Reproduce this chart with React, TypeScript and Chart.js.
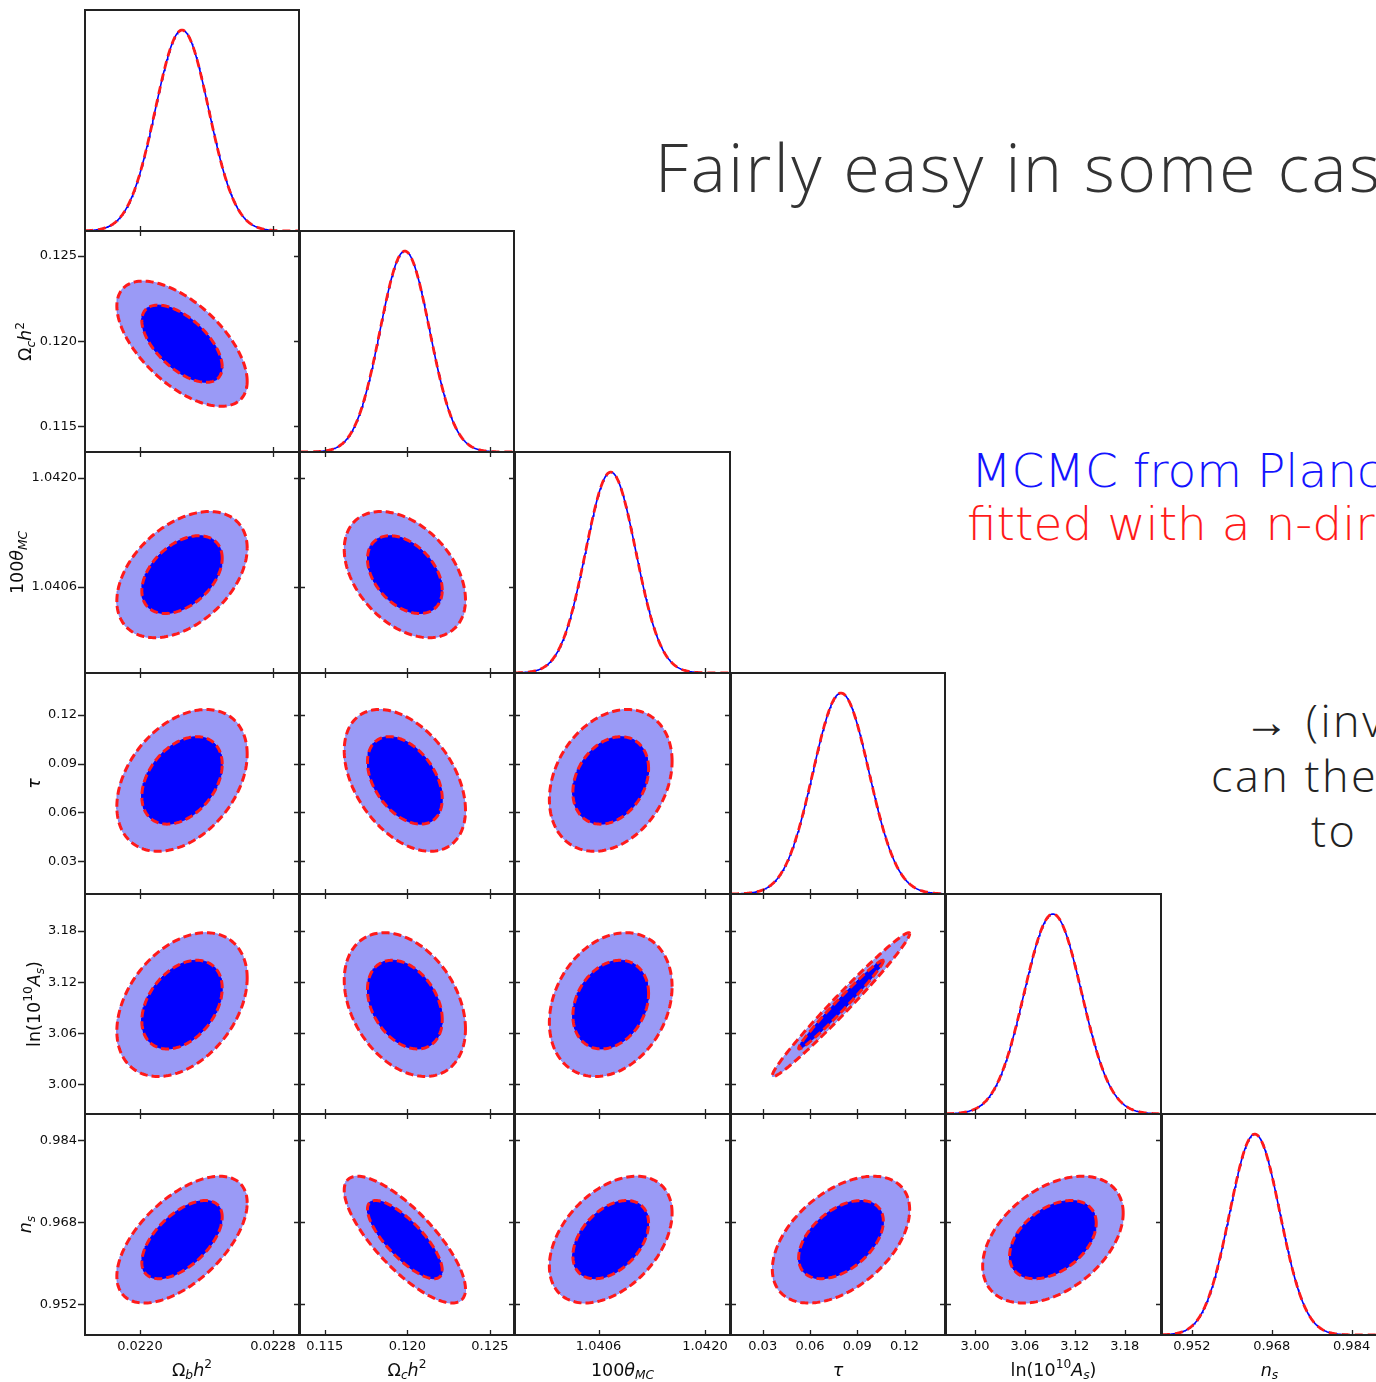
import React, { useEffect, useRef } from 'react';
import { Chart, registerables } from 'chart.js';

Chart.register(...registerables);

// Planck parameters, in plotting order
const PARAM_KEYS = ['omegabh2', 'omegach2', 'theta', 'tau', 'logA', 'ns'];
const POSTERIOR_MEANS = [0.022253, 0.11985, 1.04076, 0.0797, 3.0937, 0.9646];
const POSTERIOR_SIGMAS = [0.00016, 0.0015, 0.00033, 0.0178, 0.0345, 0.00505];
const AXIS_MIN = [0.02167, 0.1135, 1.0395, 0.0099, 2.9652, 0.946];
const AXIS_MAX = [0.022956, 0.12646, 1.04233, 0.1457, 3.2236, 0.9891];
// lower triangle of the correlation matrix
const CORRELATIONS = [
  [1],
  [-0.6, 1],
  [0.42, -0.4, 1],
  [0.37, -0.42, 0.27, 1],
  [0.37, -0.34, 0.25, 0.985, 1],
  [0.58, -0.78, 0.42, 0.47, 0.42, 1],
];
const TICK_VALUES = [
  [0.022, 0.0228],
  [0.115, 0.12, 0.125],
  [1.0406, 1.042],
  [0.03, 0.06, 0.09, 0.12],
  [3.0, 3.06, 3.12, 3.18],
  [0.952, 0.968, 0.984],
];
const TICK_LABELS = [
  ['0.0220', '0.0228'],
  ['0.115', '0.120', '0.125'],
  ['1.0406', '1.0420'],
  ['0.03', '0.06', '0.09', '0.12'],
  ['3.00', '3.06', '3.12', '3.18'],
  ['0.952', '0.968', '0.984'],
];
// probability mass enclosed by the inner / outer filled contours
const CONTOUR_LEVELS = [0.68, 0.95];
const MARGINAL_Y_MAX = 1.1;

type Seg = { t: string; it?: boolean; s?: 'sub' | 'sup' };
const AXIS_TITLES: Seg[][] = [
  [{ t: 'Ω' }, { t: 'b', it: true, s: 'sub' }, { t: 'h', it: true }, { t: '2', s: 'sup' }],
  [{ t: 'Ω' }, { t: 'c', it: true, s: 'sub' }, { t: 'h', it: true }, { t: '2', s: 'sup' }],
  [{ t: '100' }, { t: 'θ', it: true }, { t: 'MC', it: true, s: 'sub' }],
  [{ t: 'τ', it: true }],
  [{ t: 'ln(10' }, { t: '10', s: 'sup' }, { t: 'A', it: true }, { t: 's', it: true, s: 'sub' }, { t: ')' }],
  [{ t: 'n', it: true }, { t: 's', it: true, s: 'sub' }],
];

const N = PARAM_KEYS.length;
const COL_EDGES = [85, 300, 515, 731, 946, 1162, 1378];
const ROW_EDGES = [10, 231, 452, 673, 894, 1114, 1335];

const FONT = '"DejaVu Sans", "Liberation Sans", sans-serif';
const SLIDE_FONT = '"Open Sans", sans-serif';
const LIGHT_BLUE = '#9a9af6';
const LIGHT_EDGE = '#8585f2';
const DARK_BLUE = '#0000ff';
const RED = '#ff1a1a';
const INK = '#0d0d0d';
const FRAME = '#222222';

function marginalCurve(i: number) {
  const pts: { x: number; y: number }[] = [];
  const steps = 300;
  for (let k = 0; k <= steps; k++) {
    const x = AXIS_MIN[i] + ((AXIS_MAX[i] - AXIS_MIN[i]) * k) / steps;
    const z = (x - POSTERIOR_MEANS[i]) / POSTERIOR_SIGMAS[i];
    pts.push({ x, y: Math.exp(-0.5 * z * z) });
  }
  return pts;
}

// contour of a bivariate Gaussian enclosing the given probability mass
function contour(ix: number, iy: number, rho: number, level: number) {
  const r = Math.sqrt(-2 * Math.log(1 - level));
  const pts: { x: number; y: number }[] = [];
  const steps = 180;
  const q = Math.sqrt(1 - rho * rho);
  for (let k = 0; k <= steps; k++) {
    const t = (2 * Math.PI * k) / steps;
    const u = Math.cos(t);
    const v = Math.sin(t);
    pts.push({
      x: POSTERIOR_MEANS[ix] + r * POSTERIOR_SIGMAS[ix] * u,
      y: POSTERIOR_MEANS[iy] + r * POSTERIOR_SIGMAS[iy] * (rho * u + q * v),
    });
  }
  return pts;
}

function drawMath(ctx: CanvasRenderingContext2D, segs: Seg[], cx: number, cy: number, size: number, rotate: boolean) {
  ctx.save();
  ctx.translate(cx, cy);
  if (rotate) ctx.rotate(-Math.PI / 2);
  const fonts = segs.map((s) => `${s.it ? 'italic ' : ''}${s.s ? size * 0.7 : size}px ${FONT}`);
  let total = 0;
  const widths = segs.map((s, k) => {
    ctx.font = fonts[k];
    const w = ctx.measureText(s.t).width;
    total += w;
    return w;
  });
  let x = -total / 2;
  const base = size * 0.32;
  ctx.textAlign = 'left';
  ctx.textBaseline = 'alphabetic';
  ctx.fillStyle = INK;
  segs.forEach((s, k) => {
    ctx.font = fonts[k];
    const dy = s.s === 'sub' ? size * 0.22 : s.s === 'sup' ? -size * 0.42 : 0;
    ctx.fillText(s.t, x, base + dy);
    x += widths[k];
  });
  ctx.restore();
}

function framePlugin(r: number, c: number) {
  return {
    id: `frame-${r}-${c}`,
    afterDraw(chart: any) {
      const { ctx, chartArea: a } = chart;
      const xs = chart.scales.x;
      const ys = chart.scales.y;
      const diag = r === c;
      ctx.save();
      ctx.strokeStyle = FRAME;
      ctx.lineWidth = 2;
      ctx.strokeRect(a.left, a.top, a.right - a.left, a.bottom - a.top);
      ctx.lineWidth = 1.3;
      const tick = 5;
      ctx.beginPath();
      for (const v of TICK_VALUES[c]) {
        const px = Math.round(xs.getPixelForValue(v)) + 0.5;
        ctx.moveTo(px, a.bottom);
        ctx.lineTo(px, a.bottom - tick);
        if (!diag) {
          ctx.moveTo(px, a.top);
          ctx.lineTo(px, a.top + tick);
        }
      }
      if (!diag) {
        for (const v of TICK_VALUES[r]) {
          const py = Math.round(ys.getPixelForValue(v)) + 0.5;
          if (c === 0) {
            ctx.moveTo(a.left - 7, py);
            ctx.lineTo(a.left, py);
          } else {
            ctx.moveTo(a.left, py);
            ctx.lineTo(a.left + tick, py);
          }
          ctx.moveTo(a.right, py);
          ctx.lineTo(a.right - tick, py);
        }
      }
      ctx.stroke();

      ctx.fillStyle = INK;
      ctx.font = `13px ${FONT}`;
      if (c === 0 && r > 0) {
        ctx.textAlign = 'right';
        ctx.textBaseline = 'middle';
        let widest = 0;
        TICK_VALUES[r].forEach((v, k) => {
          widest = Math.max(widest, ctx.measureText(TICK_LABELS[r][k]).width);
          ctx.fillText(TICK_LABELS[r][k], a.left - 8, ys.getPixelForValue(v));
        });
        // the y title sits a fixed distance left of the widest tick label
        drawMath(ctx, AXIS_TITLES[r], a.left - 8 - widest - 14, (a.top + a.bottom) / 2, 17.5, true);
      }
      if (r === N - 1) {
        ctx.font = `13px ${FONT}`;
        ctx.textAlign = 'center';
        ctx.textBaseline = 'middle';
        TICK_VALUES[c].forEach((v, k) => {
          ctx.fillText(TICK_LABELS[c][k], xs.getPixelForValue(v), a.bottom + 12);
        });
        drawMath(ctx, AXIS_TITLES[c], (a.left + a.right) / 2, a.bottom + 35, 17.5, false);
      }
      ctx.restore();
    },
  };
}

function Panel({ r, c }: { r: number; c: number }) {
  const ref = useRef<HTMLCanvasElement>(null);
  const padL = c === 0 ? 85 : 10;
  const padR = 10;
  const padT = 10;
  const padB = r === N - 1 ? 50 : 10;
  const L = COL_EDGES[c];
  const R = COL_EDGES[c + 1] - 1;
  const T = ROW_EDGES[r];
  const B = ROW_EDGES[r + 1];
  const width = R - L + padL + padR;
  const height = B - T + padT + padB;

  useEffect(() => {
    const diag = r === c;
    const datasets: any[] = [];
    if (diag) {
      const pts = marginalCurve(c);
      datasets.push({ data: pts, borderColor: DARK_BLUE, borderWidth: 1.6, fill: false, order: 1 });
      datasets.push({ data: pts, borderColor: RED, borderWidth: 2.8, borderDash: [8, 5], fill: false, order: 0 });
    } else {
      const rho = CORRELATIONS[r][c];
      const inner = contour(c, r, rho, CONTOUR_LEVELS[0]);
      const outer = contour(c, r, rho, CONTOUR_LEVELS[1]);
      datasets.push({ data: outer, fill: 'shape', backgroundColor: LIGHT_BLUE, borderColor: LIGHT_EDGE, borderWidth: 1, order: 4 });
      datasets.push({ data: inner, fill: 'shape', backgroundColor: DARK_BLUE, borderColor: DARK_BLUE, borderWidth: 1, order: 3 });
      datasets.push({ data: outer, fill: false, borderColor: RED, borderWidth: 3, borderDash: [8, 4], order: 2 });
      datasets.push({ data: inner, fill: false, borderColor: RED, borderWidth: 3, borderDash: [8, 4], order: 1 });
    }
    const chart = new Chart(ref.current as HTMLCanvasElement, {
      type: 'line',
      data: { datasets },
      options: {
        responsive: false,
        animation: false,
        devicePixelRatio: 1,
        events: [],
        layout: { padding: { left: padL, right: padR, top: padT, bottom: padB } },
        elements: { point: { radius: 0 }, line: { tension: 0 } },
        plugins: { legend: { display: false }, tooltip: { enabled: false }, title: { display: false } },
        scales: {
          x: { type: 'linear', min: AXIS_MIN[c], max: AXIS_MAX[c], display: false },
          y: diag
            ? { type: 'linear', min: 0, max: MARGINAL_Y_MAX, display: false }
            : { type: 'linear', min: AXIS_MIN[r], max: AXIS_MAX[r], display: false },
        },
      } as any,
      plugins: [framePlugin(r, c)],
    });
    return () => chart.destroy();
  }, [r, c]);

  return (
    <canvas
      ref={ref}
      width={width}
      height={height}
      style={{ position: 'absolute', left: L - padL, top: T - padT, width, height }}
    />
  );
}

const textBase: React.CSSProperties = { position: 'absolute', whiteSpace: 'nowrap', margin: 0 };

export default function App() {
  const panels: JSX.Element[] = [];
  for (let r = 0; r < N; r++) {
    for (let c = 0; c <= r; c++) panels.push(<Panel key={`${r}-${c}`} r={r} c={c} />);
  }
  const slideLine: React.CSSProperties = {
    ...textBase,
    fontFamily: SLIDE_FONT,
    fontWeight: 300,
    fontSize: 45,
    lineHeight: '45px',
    letterSpacing: '2.5px',
    color: '#222222',
  };
  return (
    <div
      style={{
        position: 'absolute',
        left: 0,
        top: 0,
        width: 1376,
        height: 1382,
        overflow: 'hidden',
        background: '#ffffff',
      }}
    >
      {panels}
      <div
        style={{
          ...textBase,
          left: 655,
          top: 133,
          fontFamily: SLIDE_FONT,
          fontWeight: 300,
          fontSize: 66,
          lineHeight: '66px',
          letterSpacing: '2.5px',
          color: '#333333',
        }}
      >
        Fairly easy in some cas
      </div>
      <div style={{ ...textBase, left: 971, top: 447, fontFamily: FONT, fontWeight: 200, fontSize: 47, lineHeight: '47px', color: '#1414ff' }}>
        MCMC from Planc
      </div>
      <div style={{ ...textBase, left: 967, top: 500, fontFamily: FONT, fontWeight: 200, fontSize: 47, lineHeight: '47px', color: '#ff1a1a' }}>
        fitted with a n-dir
      </div>
      <div style={{ ...slideLine, left: 1244, top: 697 }}>→ (inv</div>
      <div style={{ ...slideLine, left: 1211, top: 752 }}>can the</div>
      <div style={{ ...slideLine, left: 1311, top: 807 }}>to</div>
    </div>
  );
}
